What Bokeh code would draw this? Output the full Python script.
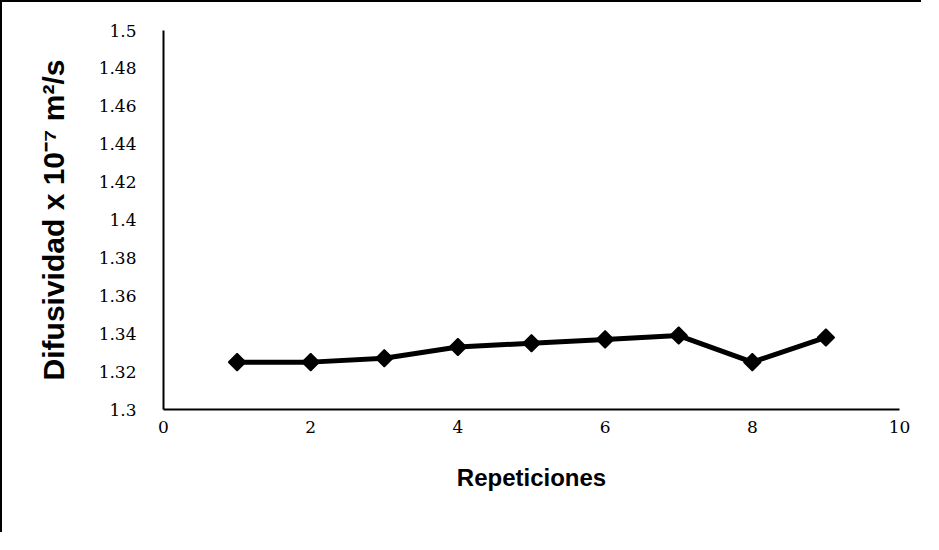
import math
from bokeh.plotting import figure
from bokeh.models import FixedTicker, CustomJSTickFormatter, Range1d
from bokeh.embed import file_html
from bokeh.resources import INLINE

# Data
repeticiones = [1, 2, 3, 4, 5, 6, 7, 8, 9]
difusividad = [1.325, 1.325, 1.327, 1.333, 1.335, 1.337, 1.339, 1.325, 1.338]
x_ticks = [0, 2, 4, 6, 8, 10]
y_ticks = [1.3, 1.32, 1.34, 1.36, 1.38, 1.4, 1.42, 1.44, 1.46, 1.48, 1.5]

p = figure(width=921, height=532, output_backend="svg", toolbar_location=None,
           x_range=Range1d(0, 10), y_range=Range1d(1.3, 1.5),
           min_border_left=161, min_border_right=24, min_border_top=28, min_border_bottom=125)
p.styles = {"border-left": "2px solid black", "border-top": "2px solid black"}
p.outline_line_color = None
p.xgrid.grid_line_color = None
p.ygrid.grid_line_color = None
p.background_fill_color = "white"
p.border_fill_color = "white"

p.line(repeticiones, difusividad, line_color="black", line_width=5)
p.scatter(repeticiones, difusividad, marker="square", size=12, angle=math.pi / 4,
          fill_color="black", line_color="black", line_width=1.5)

for ax in (p.xaxis[0], p.yaxis[0]):
    ax.axis_line_color = "black"
    ax.axis_line_width = 2
    ax.major_tick_line_color = None
    ax.minor_tick_line_color = None
    ax.major_tick_out = 0
    ax.major_tick_in = 0
    ax.minor_tick_out = 0
    ax.major_label_text_font = "DejaVu Serif"
    ax.major_label_text_font_size = "17px"
    ax.major_label_text_color = "black"
    ax.axis_label_text_font = "Liberation Sans"
    ax.axis_label_text_font_style = "bold"
    ax.axis_label_text_color = "black"

p.xaxis.ticker = FixedTicker(ticks=x_ticks)
p.yaxis.ticker = FixedTicker(ticks=y_ticks)
p.yaxis.formatter = CustomJSTickFormatter(code="return String(Number(tick.toFixed(2)));")

p.xaxis.axis_label = "Repeticiones"
p.xaxis.axis_label_text_font_size = "24px"
p.xaxis.major_label_standoff = 11
p.xaxis.axis_label_standoff = 28

p.yaxis.axis_label = "Difusividad x 10\u207b\u2077 m\u00b2/s"
p.yaxis.axis_label_text_font_size = "30px"
p.yaxis.major_label_standoff = 27
p.yaxis.axis_label_standoff = 26

open("out.html", "w").write(file_html(p, INLINE))
